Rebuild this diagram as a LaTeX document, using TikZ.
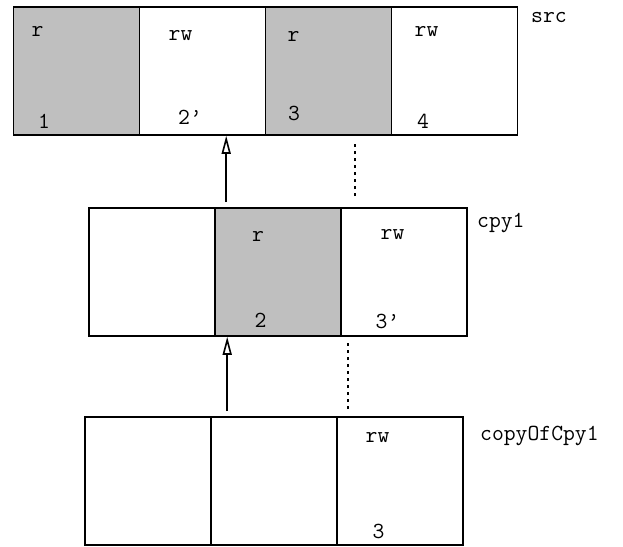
\documentclass[tikz,border=0pt]{standalone}
\usepackage{fontspec}
\usetikzlibrary{arrows.meta}

\begin{document}
\begin{tikzpicture}[x=1pt, y=-1pt, font=\ttfamily\fontsize{23}{27}\selectfont]
\tikzset{cell/.style={draw, line width=1.6pt, minimum width=126pt, minimum height=128pt, inner sep=0pt} }
\tikzset{rocell/.style={cell, fill=lightgray} }
\tikzset{tag/.style={inner sep=0pt, anchor=base} }
\tikzset{copyarrow/.style={-{Triangle[open, length=18pt, width=9pt]}, line width=1.6pt} }
\tikzset{shared/.style={line width=1.6pt, dash pattern=on 3.5pt off 3.5pt} }
\useasboundingbox (0,0) rectangle (623,546);
% src
\node[rocell] (s1) at (76.5,71)  {};
\node[cell]   (s2) at (202.5,71) {};
\node[rocell] (s3) at (328.5,71) {};
\node[cell]   (s4) at (454.5,71) {};
\node[tag] (s1r) at (37.5,36.5)  {r};
\node[tag] (s2r) at (180.5,40.5) {rw};
\node[tag] (s3r) at (293.5,41.5) {r};
\node[tag] (s4r) at (426.5,36.5) {rw};
\node[tag] (s1n) at (44,128)  {1};
\node[tag] (s2n) at (190,124) {2’};
\node[tag] (s3n) at (294,120) {3};
\node[tag] (s4n) at (423,128) {4};
\node[tag, anchor=base west] (srcname) at (531,22.5) {src};
% cpy1
\node[cell]   (c1) at (152,272) {};
\node[rocell] (c2) at (278,272) {};
\node[cell]   (c3) at (404,272) {};
\node[tag] (c2r) at (258,241.5)   {r};
\node[tag] (c3r) at (392.5,239.5) {rw};
\node[tag] (c2n) at (260.5,327.5) {2};
\node[tag] (c3n) at (387.5,328.5) {3’};
\node[tag, anchor=base west] (cpyname) at (477,227) {cpy1};
% copyOfCpy1
\node[cell] (k1) at (148,481) {};
\node[cell] (k2) at (274,481) {};
\node[cell] (k3) at (400,481) {};
\node[tag] (k3r) at (377.5,442.5) {rw};
\node[tag] (k3n) at (378.5,538.5) {3};
\node[tag, anchor=base west] (copyname) at (480,440) {copyOfCpy1};
% links
\draw[copyarrow] ([xshift=12pt, yshift=5pt]c2.north west) -- ([xshift=12pt]c2.north west |- s2.south);
\draw[shared] ([xshift=15pt, yshift=11pt]c3.north west) -- ([xshift=15pt, yshift=-8pt]c3.north west |- s3.south);
\draw[copyarrow] ([xshift=17pt, yshift=5pt]k2.north west) -- ([xshift=17pt]k2.north west |- c2.south);
\draw[shared] ([xshift=12pt, yshift=7pt]k3.north west) -- ([xshift=12pt, yshift=-6pt]k3.north west |- c3.south);
\end{tikzpicture}
\end{document}
